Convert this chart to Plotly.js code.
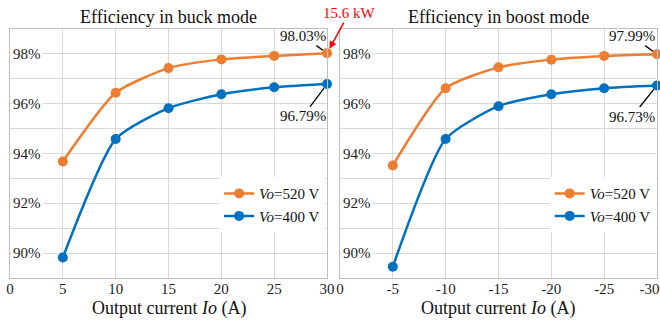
<!DOCTYPE html>
<html>
<head>
<meta charset="utf-8">
<script src="https://cdn.plot.ly/plotly-3.0.1.min.js"></script>
<style>html,body{margin:0;padding:0;background:#fff;}#chart{width:660px;height:326px;}</style>
</head>
<body>
<div id="chart"></div>
<script>
// ---- data ----
const currentBuck = [5, 10, 15, 20, 25, 30];
const buck520 = [93.68, 96.44, 97.43, 97.78, 97.92, 98.03];
const buck400 = [89.82, 94.58, 95.82, 96.38, 96.66, 96.79];

const currentBoost = [-5, -10, -15, -20, -25, -30];
const boost520 = [93.52, 96.62, 97.46, 97.77, 97.92, 97.99];
const boost400 = [89.45, 94.58, 95.90, 96.38, 96.62, 96.73];

const seriesNames = ['<i>Vo</i>=520 V', '<i>Vo</i>=400 V'];
const panelTitles = ['Efficiency in buck mode', 'Efficiency in boost mode'];
const xTitle = 'Output current <i>Io</i> (A)';

const xTicksBuck = [0, 5, 10, 15, 20, 25, 30];
const xTickTextBuck = ['0', '5', '10', '15', '20', '25', '30'];
const xTicksBoost = [0, -5, -10, -15, -20, -25, -30];
const xTickTextBoost = ['0', '-5', '-10', '-15', '-20', '-25', '-30\u00a0\u00a0\u00a0\u00a0'];

const yGrid = [89, 90, 91, 92, 93, 94, 95, 96, 97, 98, 99];
const yLabelVals = [90, 92, 94, 96, 98];
const yLabelText = ['90%', '92%', '94%', '96%', '98%'];

// ---- styles ----
const ORANGE = '#ED7D31';
const BLUE = '#0070C0';
const FONT = 'Liberation Serif';
const GRID = '#d9d9d9';

function tr(x, y, name, color, xa, ya, leg) {
  return {
    x: x, y: y, name: name, type: 'scatter', mode: 'lines+markers',
    line: {color: color, width: 2.5, shape: 'spline', smoothing: 0.6},
    marker: {color: color, size: 10}, cliponaxis: false,
    xaxis: xa, yaxis: ya, legend: leg, showlegend: true
  };
}

const data = [
  tr(currentBuck, buck520, seriesNames[0], ORANGE, 'x', 'y', 'legend'),
  tr(currentBuck, buck400, seriesNames[1], BLUE, 'x', 'y', 'legend'),
  tr(currentBoost, boost520, seriesNames[0], ORANGE, 'x2', 'y2', 'legend2'),
  tr(currentBoost, boost400, seriesNames[1], BLUE, 'x2', 'y2', 'legend2')
];

function xax(domain, range, tv, tt, anchor) {
  return {
    domain: domain, range: range, anchor: anchor,
    tickmode: 'array', tickvals: tv, ticktext: tt,
    showgrid: true, gridcolor: GRID, gridwidth: 1,
    showline: true, linecolor: '#bfbfbf', linewidth: 1, mirror: true,
    zeroline: false, ticks: '', ticklabeloverflow: 'allow', ticklabelstandoff: -3,
    tickfont: {family: FONT, size: 15, color: '#222'}
  };
}
function yax(anchor) {
  return {
    domain: [0, 1], range: [89, 99], anchor: anchor,
    tickmode: 'array', tickvals: yGrid, showticklabels: false,
    showgrid: true, gridcolor: GRID, gridwidth: 1,
    showline: true, linecolor: '#bfbfbf', linewidth: 1, mirror: true,
    zeroline: false, ticks: ''
  };
}

const annotations = [];
// y tick labels with white background (inside plot)
[['x', 'y'], ['x2', 'y2']].forEach(function (p) {
  yLabelVals.forEach(function (v, i) {
    annotations.push({
      xref: p[0], yref: p[1], x: 0, y: v, xanchor: 'left', yanchor: 'middle',
      xshift: 1, text: yLabelText[i], showarrow: false, bgcolor: '#fff', borderpad: 1,
      font: {family: FONT, size: 15, color: '#222'}
    });
  });
});
// panel titles and axis titles
const dom1 = [0, 0.49], dom2 = [0.51, 1];
[dom1, dom2].forEach(function (d, i) {
  annotations.push({xref: 'paper', yref: 'paper', x: (d[0] + d[1]) / 2, y: 1.048,
    xanchor: 'center', yanchor: 'middle', showarrow: false, text: panelTitles[i],
    font: {family: FONT, size: 18, color: '#111'}});
  annotations.push({xref: 'paper', yref: 'paper', x: (d[0] + d[1]) / 2, y: -0.124,
    xanchor: 'center', yanchor: 'middle', showarrow: false, text: xTitle,
    font: {family: FONT, size: 18, color: '#111'}});
});

function callout(xa, ya, x, y, ax, ay) {
  return {xref: xa, yref: ya, x: x, y: y, ax: ax, ay: ay, axref: 'pixel', ayref: 'pixel',
    text: y.toFixed(2) + '%', showarrow: true, arrowhead: 0, arrowwidth: 1.3,
    arrowcolor: '#000', standoff: 5,
    font: {family: FONT, size: 15, color: '#111'}};
}
const nB = currentBuck.length - 1, nS = currentBoost.length - 1;
annotations.push(callout('x', 'y', currentBuck[nB], buck520[nB], -24, -17));
annotations.push(callout('x', 'y', currentBuck[nB], buck400[nB], -24, 32));
annotations.push(callout('x2', 'y2', currentBoost[nS], boost520[nS], -25, -18));
annotations.push(callout('x2', 'y2', currentBoost[nS], boost400[nS], -25, 31));
// red power annotation
annotations.push({xref: 'x', yref: 'y', x: currentBuck[nB], y: buck520[nB], ax: 22, ay: -40,
  text: '15.6 kW', showarrow: true, arrowhead: 2, arrowsize: 1, arrowwidth: 1.5,
  arrowcolor: '#ff0000', standoff: 5, font: {family: FONT, size: 15, color: '#ff0000'}});

const legendStyle = function (x) {
  return {x: x, y: 0.405, xanchor: 'right', yanchor: 'top', bgcolor: '#fff',
    borderwidth: 0, font: {family: FONT, size: 15, color: '#111'},
    itemwidth: 30, tracegroupgap: 0, traceorder: 'normal'};
};

const layout = {
  width: 660, height: 326,
  margin: {l: 10, r: 3, t: 29, b: 48},
  paper_bgcolor: '#fff', plot_bgcolor: '#fff',
  showlegend: true,
  xaxis: xax(dom1, [0, 30.001], xTicksBuck, xTickTextBuck, 'y'),
  yaxis: yax('x'),
  xaxis2: xax(dom2, [0, -30.001], xTicksBoost, xTickTextBoost, 'y2'),
  yaxis2: yax('x2'),
  legend: legendStyle(0.487),
  legend2: legendStyle(0.998),
  annotations: annotations
};

Plotly.newPlot('chart', data, layout, {displayModeBar: false, staticPlot: true});
</script>
</body>
</html>
